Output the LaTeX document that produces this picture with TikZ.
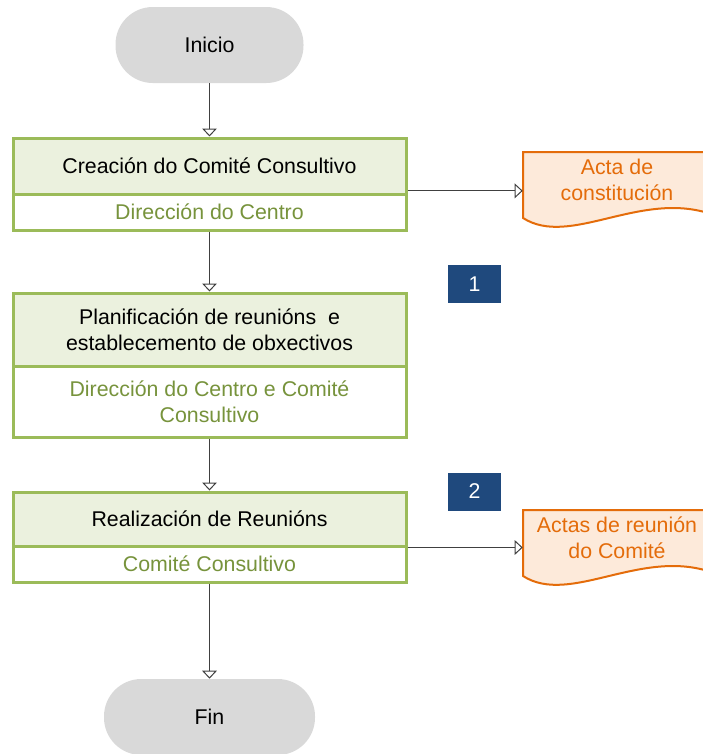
\documentclass[tikz,border=0pt]{standalone}
\usepackage{fontspec}
\setmainfont{Liberation Sans}
\usetikzlibrary{arrows.meta}
\definecolor{termgray}{HTML}{D9D9D9}
\definecolor{boxgreen}{HTML}{9BBB59}
\definecolor{boxfill}{HTML}{EBF1DE}
\definecolor{txtgreen}{HTML}{77933C}
\definecolor{docorange}{HTML}{E46C0A}
\definecolor{docfill}{HTML}{FDEADA}
\definecolor{numblue}{HTML}{1F497D}
\definecolor{connc}{HTML}{404040}
\newcommand{\myfs}{\fontsize{16pt}{19.5pt}\selectfont}
\begin{document}
\begin{tikzpicture}[x=0.75pt,y=-0.75pt,
  term/.style={rectangle, rounded corners=28pt, fill=termgray, minimum height=57pt, inner sep=0pt, font=\myfs},
  ttl/.style={rectangle, draw=boxgreen, line width=2.25pt, fill=boxfill, minimum width=294.75pt, inner sep=0pt, align=center, font=\myfs},
  subbox/.style={rectangle, draw=boxgreen, line width=2.25pt, fill=white, text=txtgreen, minimum width=294.75pt, inner sep=0pt, align=center, font=\myfs},
  conn/.style={draw=connc, line width=0.75pt, -{Triangle[open, width=11pt, length=6pt]}},
  num/.style={rectangle, fill=numblue, text=white, minimum width=39.75pt, minimum height=28.5pt, inner sep=0pt, font=\myfs},
  doctxt/.style={rectangle, minimum width=141pt, minimum height=49.5pt, inner sep=0pt, align=center, text=docorange, font=\myfs},
  docshape/.style={draw=docorange, fill=docfill, line width=1.5pt}
]
\useasboundingbox (0,0) rectangle (703,754);

% document shapes
\path[docshape] (523,152) -- (711,152) -- (711,214) .. controls (640,190) and (570,248) .. (523,218) -- cycle;
\path[docshape] (523,510) -- (711,510) -- (711,572) .. controls (640,548) and (570,606) .. (523,576) -- cycle;
\node[doctxt] (doc1) at (617,180) {Acta de\\constitución};
\node[doctxt] (doc2) at (617,538) {Actas de reunión\\do Comité};

% terminals
\node[term, minimum width=141pt] (ini) at (209.5,45) {Inicio};
\node[term, minimum width=158.25pt] (fin) at (209.5,717) {Fin};

% process boxes
\node[ttl, minimum height=42pt] (b1top) at (209.5,166) {Creación do Comité Consultivo};
\node[subbox, minimum height=27pt] (b1sub) at (209.5,212) {Dirección do Centro};

\node[ttl, minimum height=54.75pt] (b2top) at (209.5,329.5) {Planificación de reunións\ \ e\\establecemento de obxectivos};
\node[subbox, minimum height=53.25pt] (b2sub) at (209.5,401.5) {Dirección do Centro e Comité\\Consultivo};

\node[ttl, minimum height=40.5pt] (b3top) at (209.5,519) {Realización de Reunións};
\node[subbox, minimum height=27pt] (b3sub) at (209.5,564) {Comité Consultivo};

% number tags
\node[num] (n1) at (474.5,284) {1};
\node[num] (n2) at (474.5,491.5) {2};

% connectors
\draw[conn] (ini) -- (b1top);
\draw[conn] (b1sub) -- (b2top);
\draw[conn] (b2sub) -- (b3top);
\draw[conn] (b3sub) -- (fin);
\draw[conn] ([yshift=3.5pt]b1top.south east) -- ([yshift=3.5pt]b1top.south east -| doc1.west);
\draw[conn] (b3top.south east) -- (b3top.south east -| doc2.west);
\end{tikzpicture}
\end{document}
